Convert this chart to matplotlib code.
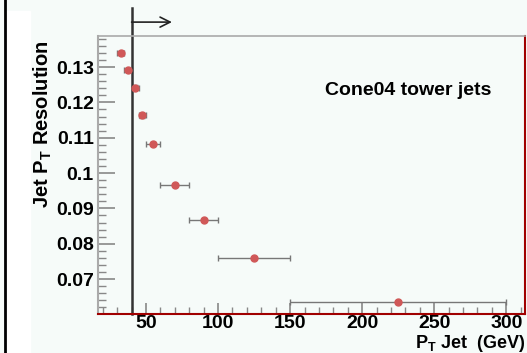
import matplotlib.pyplot as plt
import numpy as np
from matplotlib.ticker import MultipleLocator

# jet pT bins and resolution values
pt_center = [32.5, 37.5, 42.5, 47.5, 55, 70, 90, 125, 225]
pt_halfwidth = [2.5, 2.5, 2.5, 2.5, 5, 10, 10, 25, 75]
resolution = [0.1340, 0.1292, 0.1242, 0.1163, 0.1083, 0.0966, 0.0866, 0.0760, 0.0634]
res_err = [0.0006, 0.0005, 0.0006, 0.0006, 0.0004, 0.0003, 0.0003, 0.0003, 0.0003]
y_ticks = [0.07, 0.08, 0.09, 0.1, 0.11, 0.12, 0.13]
y_tick_labels = ["0.07", "0.08", "0.09", "0.1", "0.11", "0.12", "0.13"]
pt_cut = 40

bg = '#f6fbf9'
plt.rcParams['font.family'] = ['Liberation Sans', 'DejaVu Sans']
plt.rcParams['mathtext.fontset'] = 'custom'
plt.rcParams['mathtext.rm'] = 'Liberation Sans:bold'
plt.rcParams['mathtext.it'] = 'Liberation Sans:bold'
plt.rcParams['mathtext.bf'] = 'Liberation Sans:bold'

fig = plt.figure(figsize=(5.27, 3.53), dpi=100, facecolor=bg)
ax = fig.add_axes([98 / 527, 1 - 314 / 353, 427 / 527, 278 / 353])
ax.set_facecolor(bg)

# left-hand frame decoration
fig.patches.append(plt.Rectangle((6 / 527, 0), 24 / 527, 1 - 11 / 353,
                                 transform=fig.transFigure, color='white', zorder=0))
fig.lines.append(plt.Line2D([4.5 / 527, 4.5 / 527], [0, 1], transform=fig.transFigure,
                            color='black', lw=2))

ax.errorbar(pt_center, resolution, xerr=pt_halfwidth, yerr=res_err, fmt='o',
            color='#d05858', markersize=5, ecolor='#777777', elinewidth=1,
            capsize=2, capthick=1)

ax.set_xlim(16.7, 313)
ax.set_ylim(0.0601, 0.1388)

# threshold line with arrow
ax.plot([pt_cut, pt_cut], [0, 1.10], transform=ax.get_xaxis_transform(),
        color='#333333', lw=1.8, clip_on=False)
ax.annotate('', xy=(68, 1.05), xytext=(pt_cut, 1.05),
            xycoords=('data', 'axes fraction'), textcoords=('data', 'axes fraction'),
            arrowprops=dict(arrowstyle='->', color='#222222', lw=1.2,
                            mutation_scale=18, shrinkA=0, shrinkB=0),
            annotation_clip=False)

ax.text(232, 0.1235, 'Cone04 tower jets', fontsize=14, fontweight='bold',
        ha='center', va='center')

ax.set_yticks(y_ticks)
ax.set_yticklabels(y_tick_labels)
ax.xaxis.set_major_locator(MultipleLocator(50))
ax.xaxis.set_minor_locator(MultipleLocator(10))
ax.yaxis.set_minor_locator(MultipleLocator(0.002))
ax.tick_params(axis='both', which='both', direction='in', top=False, right=False,
               labelsize=14, colors='#888888', labelcolor='black')
ax.tick_params(axis='y', which='major', length=12, width=1.2, pad=3)
ax.tick_params(axis='y', which='minor', length=6, width=1)
ax.tick_params(axis='x', which='major', length=8, width=1.2, pad=1)
ax.tick_params(axis='x', which='minor', length=5, width=1)
for lab in ax.get_xticklabels() + ax.get_yticklabels():
    lab.set_fontweight('bold')

ax.spines['left'].set_color('#aaaaaa')
ax.spines['top'].set_color('#aaaaaa')
ax.spines['top'].set_linewidth(1.2)
ax.spines['left'].set_linewidth(1.5)
ax.spines['bottom'].set_color('#a00000')
ax.spines['right'].set_color('#a00000')
ax.spines['bottom'].set_linewidth(1.5)
ax.spines['right'].set_linewidth(1.5)

fig.text(43 / 527, 1 - 40 / 353, r'Jet P$_\mathregular{T}$ Resolution', rotation=90,
         fontsize=14.5, fontweight='bold', ha='center', va='top')
fig.text(525 / 527, 1 - 347.5 / 353, r'P$_\mathregular{T}$ Jet  (GeV)',
         fontsize=13, fontweight='bold', ha='right', va='baseline')

plt.savefig('out.png', dpi=100, facecolor=bg)
plt.close()
